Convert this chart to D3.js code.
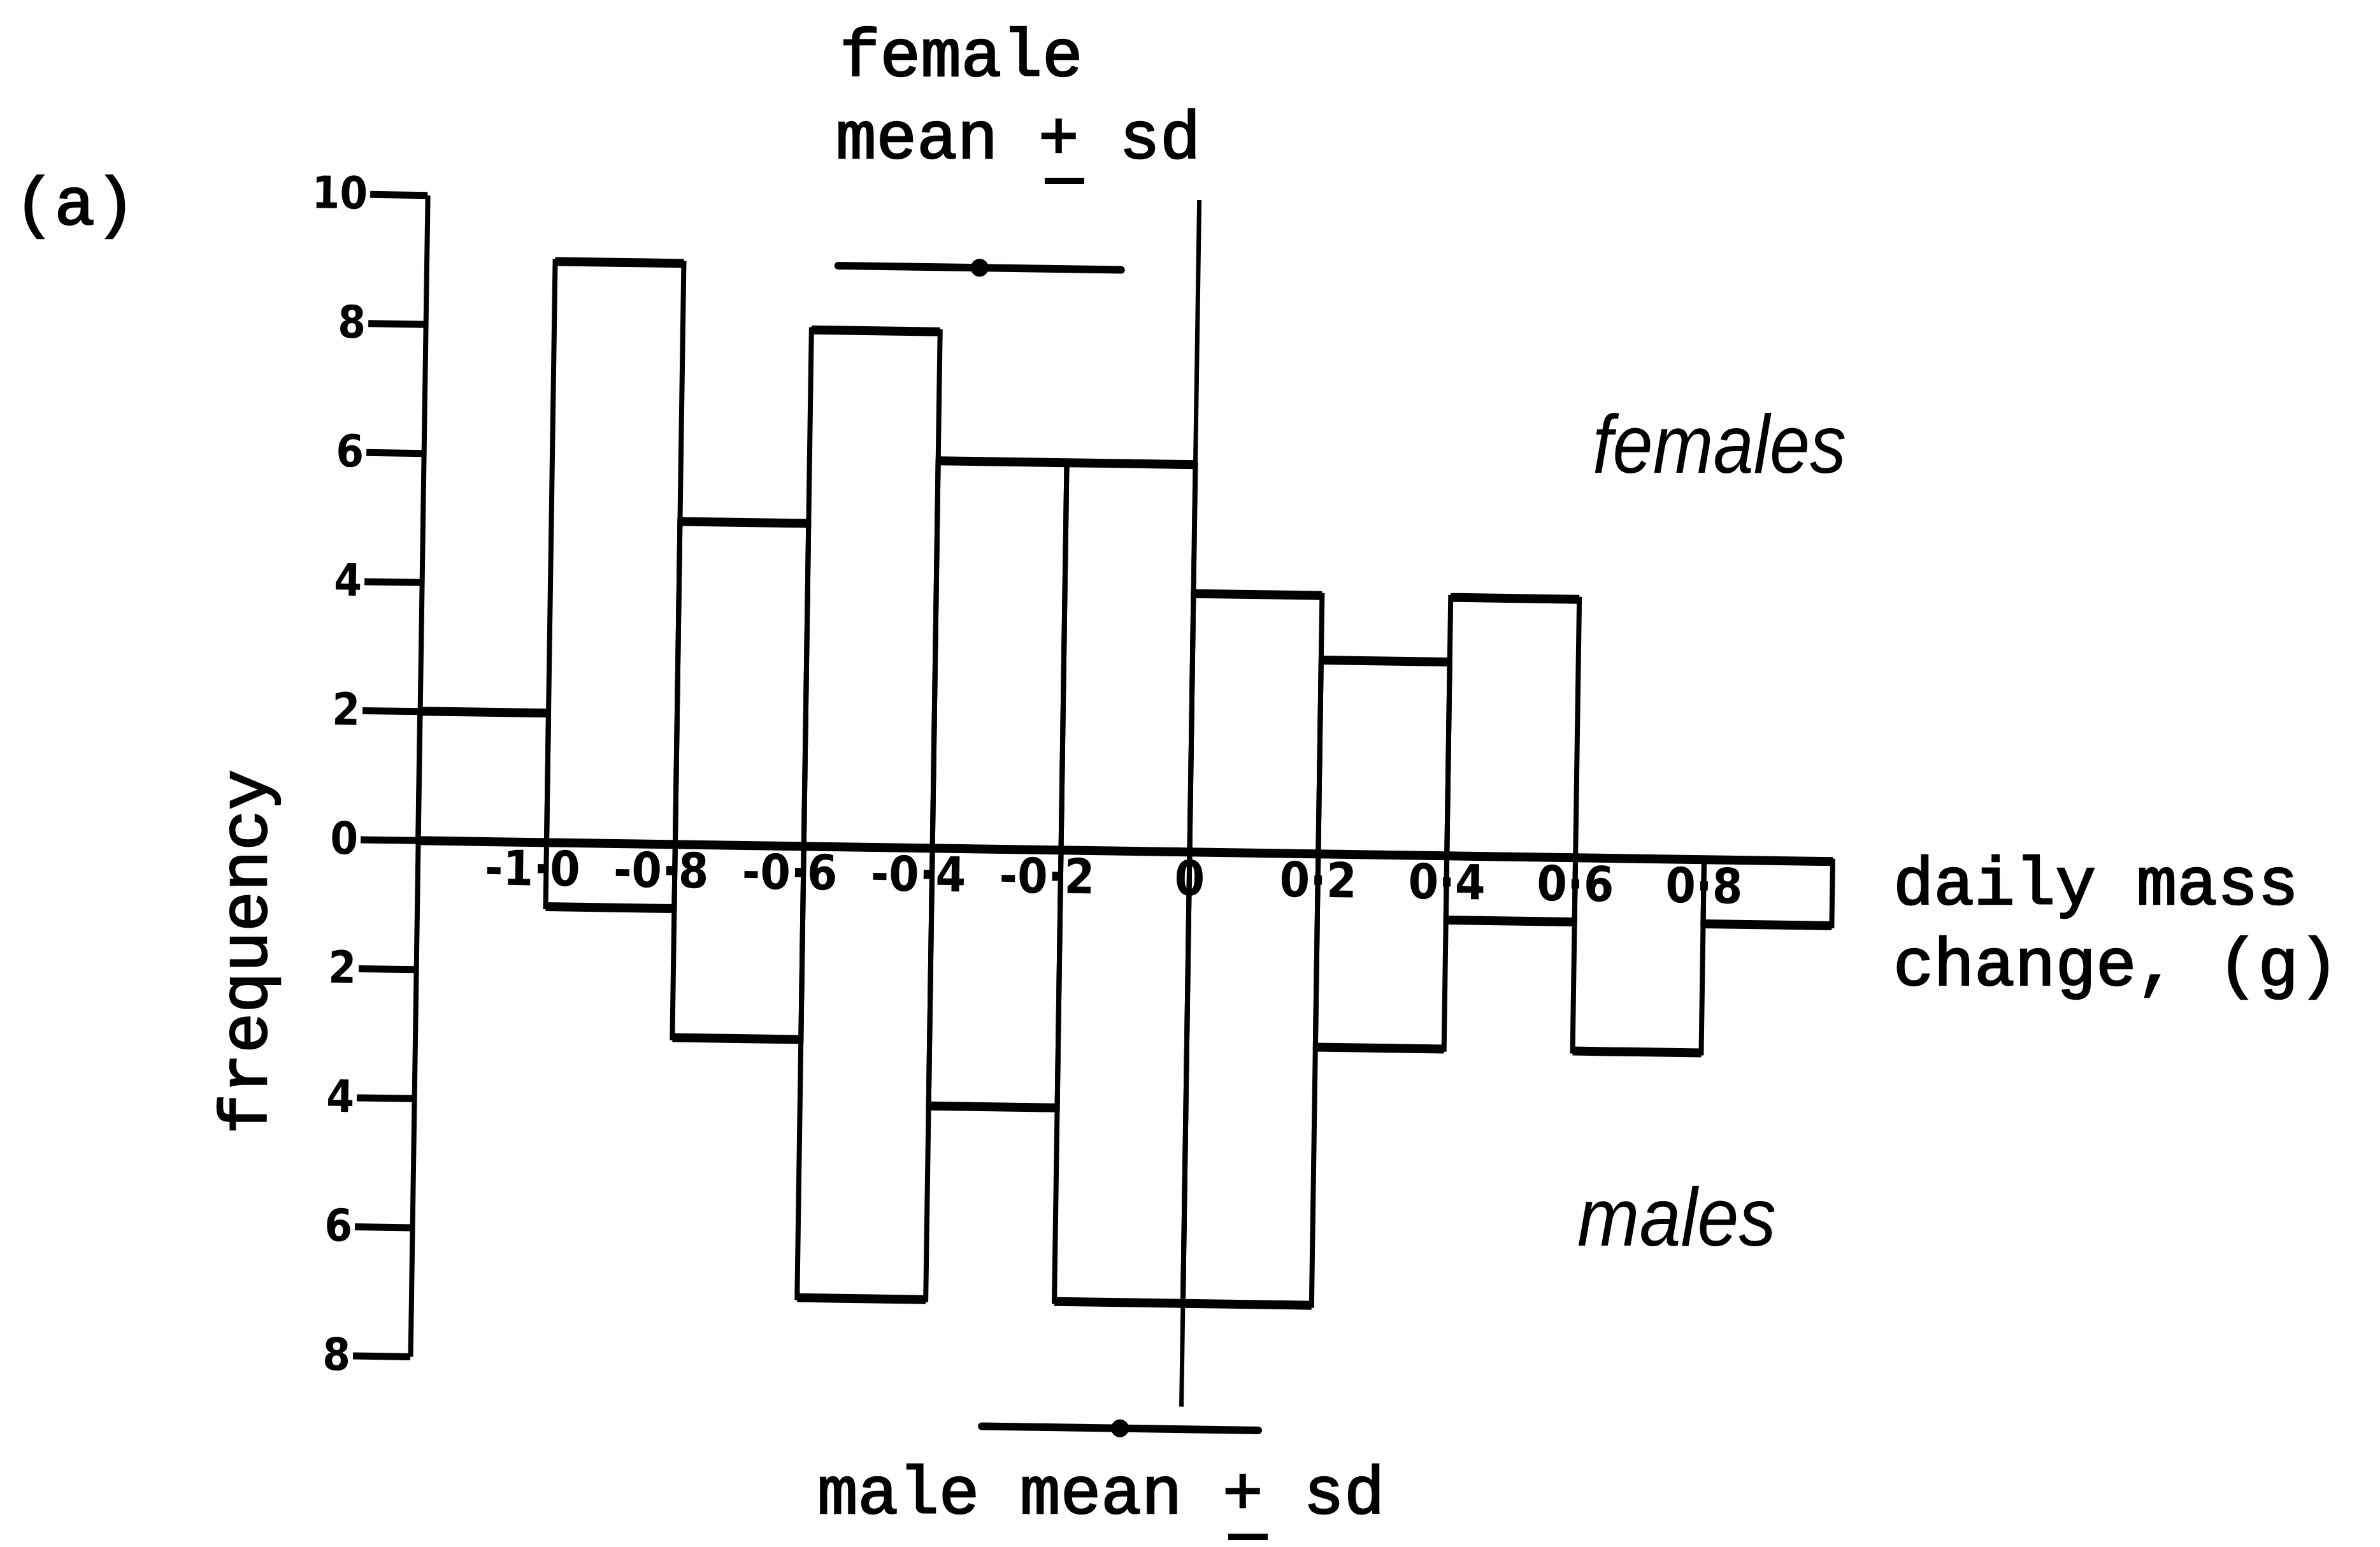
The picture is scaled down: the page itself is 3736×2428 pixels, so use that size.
<!DOCTYPE html>
<html>
<head>
<meta charset="utf-8">
<script src="https://cdn.jsdelivr.net/npm/d3@7"></script>
<style>
  body { margin: 0; background: #fff; }
  .mono { font-family: "Liberation Mono", "DejaVu Sans Mono", monospace; font-size: 106px;
          fill: #000; stroke: #000; stroke-width: 2.5px; }
  .sex { font-family: "Liberation Sans", Arial, sans-serif; font-style: italic; font-size: 130px; fill: #000; }
  .axis text { font-family: "Liberation Sans Narrow", "DejaVu Sans Condensed", "Arial Narrow", sans-serif;
               font-weight: bold; font-stretch: condensed; fill: #000; }
  .y-axis text { font-size: 70px; }
  .x-axis text { font-size: 76px; }
</style>
</head>
<body>
<svg id="chart" width="3736" height="2428"></svg>
<script>
// bins are 0.2 g wide, these are the left edges
const binStarts = [-1.2, -1.0, -0.8, -0.6, -0.4, -0.2, 0, 0.2, 0.4, 0.6, 0.8];
const females = [2, 9, 5, 8, 6, 6, 4, 3, 4, 0, 0];
const males = [0, 1, 3, 7, 4, 7, 7, 3, 1, 3, 1];
const binWidth = 0.2;

const xTicks = [-1.0, -0.8, -0.6, -0.4, -0.2, 0, 0.2, 0.4, 0.6, 0.8];
const xTickLabels = ["-1·0", "-0·8", "-0·6", "-0·4", "-0·2", "0", "0·2", "0·4", "0·6", "0·8"];
const yTicks = [-8, -6, -4, -2, 0, 2, 4, 6, 8, 10];
const yTickLabels = ["8", "6", "4", "2", "0", "2", "4", "6", "8", "10"];

// mean, sd
const femaleMeanSd = [-0.34, 0.22];
const maleMeanSd = [-0.095, 0.215];

const svg = d3.select("#chart");

const x = d3.scaleLinear().domain([-1.2, 1.0]).range([656, 2877]);
const y = d3.scaleLinear().domain([-8, 10]).range([2147, 324]);

// the scanned figure sits slightly crooked on the page
const plot = svg.append("g")
    .attr("transform", `rotate(0.85, ${x(0)}, ${y(0)})`);

// histogram boxes
const drawBars = (counts, sign, cls) => {
    let data = binStarts.map((b, i) => ({ x0: b, n: counts[i] })).filter(d => d.n > 0);
    let g = plot.append("g").attr("class", cls);
    g.selectAll("rect")
        .data(data)
        .enter()
        .append("rect")
        .attr("x", d => x(d.x0))
        .attr("width", d => x(d.x0 + binWidth) - x(d.x0))
        .attr("y", d => Math.min(y(0), y(sign * d.n)))
        .attr("height", d => Math.abs(y(sign * d.n) - y(0)))
        .attr("fill", "none")
        .attr("stroke", "#000")
        .attr("stroke-width", 8);
    // heavier horizontal ends, like the original
    g.selectAll("line")
        .data(data)
        .enter()
        .append("line")
        .attr("x1", d => x(d.x0))
        .attr("x2", d => x(d.x0 + binWidth))
        .attr("y1", d => y(sign * d.n))
        .attr("y2", d => y(sign * d.n))
        .attr("stroke", "#000")
        .attr("stroke-width", 14);
}
drawBars(females, 1, "females");
drawBars(males, -1, "males");

// zero line
plot.append("line")
    .attr("x1", x(0)).attr("x2", x(0))
    .attr("y1", y(10.1)).attr("y2", y(-8.6))
    .attr("stroke", "#000")
    .attr("stroke-width", 7);

// axes
const yAxis = d3.axisLeft(y)
    .tickValues(yTicks)
    .tickSize(90)
    .tickSizeOuter(0)
    .tickPadding(4)
    .tickFormat((d, i) => yTickLabels[i]);

let yg = plot.append("g")
    .attr("class", "axis y-axis")
    .attr("transform", `translate(${x(-1.2)},0)`)
    .call(yAxis);
yg.attr("font-size", null).attr("font-family", null);
yg.select(".domain").attr("stroke-width", 8);
yg.selectAll(".tick line").attr("stroke-width", 11);

const xAxis = d3.axisBottom(x)
    .tickValues(xTicks)
    .tickSize(0)
    .tickPadding(14)
    .tickFormat((d, i) => xTickLabels[i]);

let xg = plot.append("g")
    .attr("class", "axis x-axis")
    .attr("transform", `translate(0,${y(0)})`)
    .call(xAxis);
xg.attr("font-size", null).attr("font-family", null);
xg.select(".domain").attr("stroke-width", 14);
xg.selectAll(".tick text").attr("dx", d => d < 0 ? -22 : 0);

// mean +/- sd markers
const meanBar = (ms, level) => {
    plot.append("line")
        .attr("x1", x(ms[0] - ms[1]))
        .attr("x2", x(ms[0] + ms[1]))
        .attr("y1", y(level)).attr("y2", y(level))
        .attr("stroke", "#000")
        .attr("stroke-width", 12)
        .attr("stroke-linecap", "round");
    plot.append("circle")
        .attr("cx", x(ms[0]))
        .attr("cy", y(level))
        .attr("r", 14)
        .attr("fill", "#000");
}
meanBar(femaleMeanSd, 9.0);
meanBar(maleMeanSd, -8.95);

// text
const label = (txt, px, py, cls) => {
    return svg.append("text").attr("class", cls).attr("x", px).attr("y", py).text(txt);
}
label("(a)", 22, 352, "mono");
label("female", 1318, 119, "mono");
label("mean + sd", 1312, 248, "mono");
label("male mean + sd", 1283, 2375, "mono");
label("daily mass", 2972, 1419, "mono");
label("change, (g)", 2972, 1546, "mono");

// the minus under the "+" signs
svg.append("line").attr("x1", 1640).attr("x2", 1702).attr("y1", 284).attr("y2", 284)
    .attr("stroke", "#000").attr("stroke-width", 10);
svg.append("line").attr("x1", 1928).attr("x2", 1990).attr("y1", 2412).attr("y2", 2412)
    .attr("stroke", "#000").attr("stroke-width", 10);

svg.append("text")
    .attr("class", "mono")
    .attr("text-anchor", "middle")
    .attr("transform", "translate(418,1494) rotate(-90)")
    .text("frequency");

label("females", 2500, 742, "sex")
    .attr("textLength", 398).attr("lengthAdjust", "spacingAndGlyphs");
label("males", 2476, 1955, "sex")
    .attr("textLength", 312).attr("lengthAdjust", "spacingAndGlyphs");
</script>
</body>
</html>
